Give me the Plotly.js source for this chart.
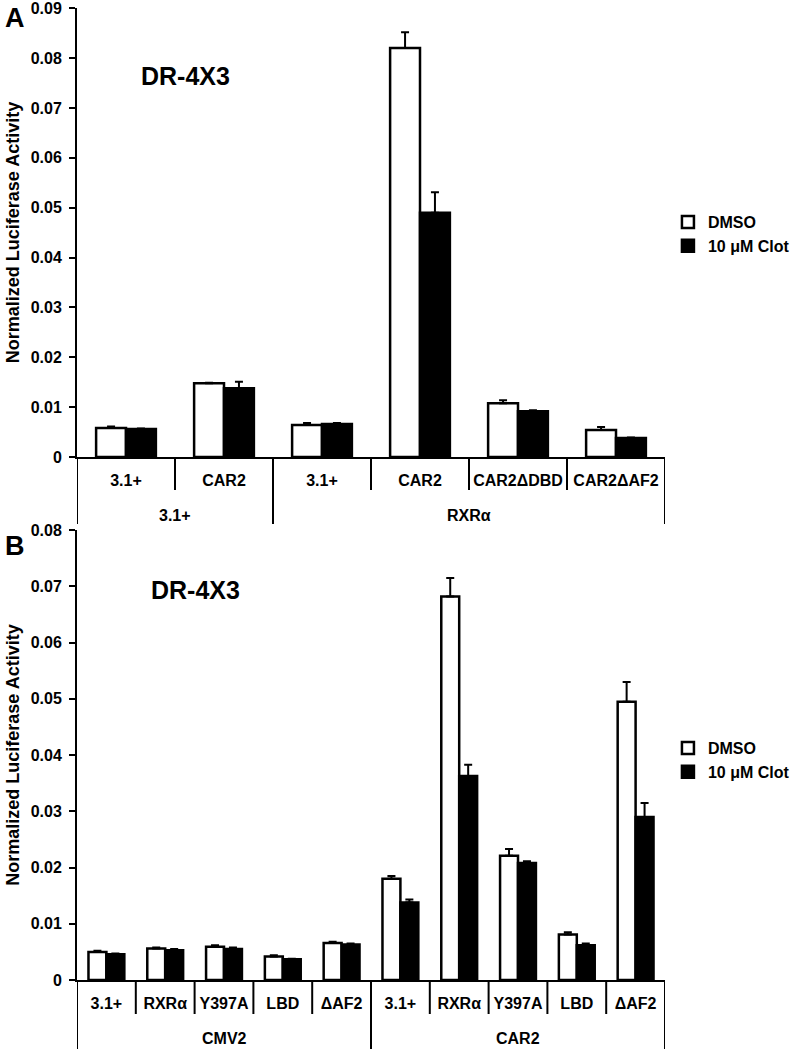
<!DOCTYPE html>
<html>
<head>
<meta charset="utf-8">
<script src="https://cdn.plot.ly/plotly-3.0.1.min.js"></script>
<style>html,body{margin:0;padding:0;background:#fff;}#chart{width:795px;height:1050px;}</style>
</head>
<body>
<div id="chart"></div>
<script>
// ---- Panel A data ----
const catsA = ["3.1+", "CAR2", "3.1+", "CAR2", "CAR2ΔDBD", "CAR2ΔAF2"];
const groupLabelsA = ["3.1+", "RXRα"];
const groupSizesA = [2, 4];
const dmsoA = [0.0058, 0.0148, 0.0064, 0.0820, 0.0108, 0.0054];
const dmsoErrA = [0.0003, 0.0001, 0.0004, 0.0032, 0.0006, 0.0006];
const clotA = [0.0056, 0.0138, 0.0066, 0.0490, 0.0092, 0.0038];
const clotErrA = [0.0001, 0.0013, 0.0002, 0.0041, 0.0002, 0.0001];
const yMaxA = 0.09;

// ---- Panel B data ----
const catsB = ["3.1+", "RXRα", "Y397A", "LBD", "ΔAF2", "3.1+", "RXRα", "Y397A", "LBD", "ΔAF2"];
const groupLabelsB = ["CMV2", "CAR2"];
const groupSizesB = [5, 5];
const dmsoB = [0.0050, 0.0056, 0.0059, 0.0042, 0.0066, 0.0180, 0.0682, 0.0221, 0.0081, 0.0495];
const dmsoErrB = [0.0002, 0.0002, 0.0003, 0.0002, 0.0002, 0.0005, 0.0033, 0.0012, 0.0004, 0.0035];
const clotB = [0.0046, 0.0053, 0.0055, 0.0037, 0.0063, 0.0138, 0.0363, 0.0208, 0.0062, 0.0290];
const clotErrB = [0.0001, 0.0002, 0.0003, 0.0001, 0.0002, 0.0005, 0.0020, 0.0003, 0.0003, 0.0025];
const yMaxB = 0.08;

const seriesNames = ["DMSO", "10 μM Clot"];
const panelTitle = "DR-4X3";
const yTitle = "Normalized Luciferase Activity";

// ---- layout helpers ----
const W = 795, H = 1050, L = 77, R = 677, PW = R - L;
const fx = p => (p - L) / PW;
const fy = p => 1 - p / H;
const FONT = "Liberation Sans, Arial, Helvetica, sans-serif";
const bold = (size) => ({family: FONT, size: size, color: "#000", weight: "bold"});

function barTraces(cats, dmso, dmsoErr, clot, clotErr, xa, ya, leg) {
  const xs = cats.map((_, i) => i);
  const zeros = cats.map(() => 0);
  const common = {type: "bar", x: xs, xaxis: xa, yaxis: ya, legend: leg, hoverinfo: "skip"};
  return [
    Object.assign({}, common, {
      y: dmso, name: seriesNames[0],
      marker: {color: "#ffffff", line: {color: "#000", width: 2.5}},
      error_y: {type: "data", array: dmsoErr, arrayminus: zeros, symmetric: false, color: "#000", thickness: 2, width: 4}
    }),
    Object.assign({}, common, {
      y: clot, name: seriesNames[1],
      marker: {color: "#000000", line: {color: "#000", width: 2.5}},
      error_y: {type: "data", array: clotErr, arrayminus: zeros, symmetric: false, color: "#000", thickness: 2, width: 4}
    })
  ];
}

function separators(cats, sizes, xref, base, innerBottom, groupBottom) {
  const shapes = [];
  const groupBounds = new Set();
  let acc = 0;
  groupBounds.add(-0.5);
  sizes.forEach(s => { acc += s; groupBounds.add(acc - 0.5); });
  for (let b = -0.5; b <= cats.length - 0.5 + 1e-9; b += 1) {
    const isGroup = groupBounds.has(b);
    shapes.push({type: "line", xref: xref, yref: "paper", x0: b, x1: b,
      y0: fy(base), y1: fy(isGroup ? groupBottom : innerBottom),
      line: {color: "#000", width: 2}});
  }
  return shapes;
}

function groupAnnots(labels, sizes, xref, ypix) {
  const out = [];
  let start = 0;
  labels.forEach((lab, k) => {
    const center = start + (sizes[k] - 1) / 2;
    out.push({text: lab, xref: xref, yref: "paper", x: center, y: fy(ypix),
      showarrow: false, font: bold(16), xanchor: "center", yanchor: "middle"});
    start += sizes[k];
  });
  return out;
}

function tickList(max) {
  const out = [];
  for (let k = 0; k <= Math.round(max / 0.01); k++) out.push(+(k * 0.01).toFixed(2));
  return out;
}

const data = [].concat(
  barTraces(catsA, dmsoA, dmsoErrA, clotA, clotErrA, "x", "y", "legend"),
  barTraces(catsB, dmsoB, dmsoErrB, clotB, clotErrB, "x2", "y2", "legend2")
);

const xCommon = {domain: [0, 1], showline: true, linecolor: "#000", linewidth: 2, ticks: "",
  showgrid: false, zeroline: false, tickfont: bold(16), ticklabelstandoff: 8, fixedrange: true};
const yCommon = {showline: true, linecolor: "#000", linewidth: 2, ticks: "outside", ticklen: 6,
  tickwidth: 2, tickcolor: "#000", showgrid: false, zeroline: false, tickfont: bold(16),
  ticklabelstandoff: 4, ticklabeloverflow: "allow", tickmode: "array",
  title: {text: yTitle, font: bold(18), standoff: 6}};

const layout = {
  width: W, height: H,
  margin: {l: L, r: W - R, t: 0, b: 0},
  paper_bgcolor: "#fff", plot_bgcolor: "#fff",
  barmode: "group", bargap: 0.39, bargroupgap: 0,
  font: bold(16),
  xaxis: Object.assign({}, xCommon, {anchor: "y", range: [-0.5, catsA.length - 0.5],
    tickvals: catsA.map((_, i) => i), ticktext: catsA}),
  yaxis: Object.assign({}, yCommon, {anchor: "x", domain: [fy(457), fy(8)], range: [0, yMaxA * 1.0005],
    tickvals: tickList(yMaxA), ticktext: tickList(yMaxA).map(v => v === 0 ? "0" : v.toFixed(2))}),
  xaxis2: Object.assign({}, xCommon, {anchor: "y2", range: [-0.5, catsB.length - 0.5],
    tickvals: catsB.map((_, i) => i), ticktext: catsB}),
  yaxis2: Object.assign({}, yCommon, {anchor: "x2", domain: [fy(980), fy(530)], range: [0, yMaxB * 1.0005],
    tickvals: tickList(yMaxB), ticktext: tickList(yMaxB).map(v => v === 0 ? "0" : v.toFixed(2))}),
  legend: {x: fx(680), y: fy(205), xanchor: "left", yanchor: "top", font: bold(16),
    bgcolor: "rgba(0,0,0,0)", itemwidth: 30, tracegroupgap: 0},
  legend2: {x: fx(680), y: fy(731), xanchor: "left", yanchor: "top", font: bold(16),
    bgcolor: "rgba(0,0,0,0)", itemwidth: 30, tracegroupgap: 0},
  shapes: [].concat(
    separators(catsA, groupSizesA, "x", 457, 490, 524),
    separators(catsB, groupSizesB, "x2", 980, 1014, 1049)
  ),
  annotations: [].concat(
    groupAnnots(groupLabelsA, groupSizesA, "x", 515),
    groupAnnots(groupLabelsB, groupSizesB, "x2", 1038),
    [
      {text: panelTitle, xref: "paper", yref: "paper", x: fx(188), y: fy(76), showarrow: false,
        font: bold(25), xanchor: "center", yanchor: "middle"},
      {text: panelTitle, xref: "paper", yref: "paper", x: fx(198), y: fy(590), showarrow: false,
        font: bold(25), xanchor: "center", yanchor: "middle"},
      {text: "A", xref: "paper", yref: "paper", x: fx(1), y: fy(18), showarrow: false,
        font: bold(27), xanchor: "left", yanchor: "middle"},
      {text: "B", xref: "paper", yref: "paper", x: fx(1), y: fy(546), showarrow: false,
        font: bold(27), xanchor: "left", yanchor: "middle"}
    ]
  )
};

Plotly.newPlot("chart", data, layout, {staticPlot: true, displayModeBar: false});
</script>
</body>
</html>
